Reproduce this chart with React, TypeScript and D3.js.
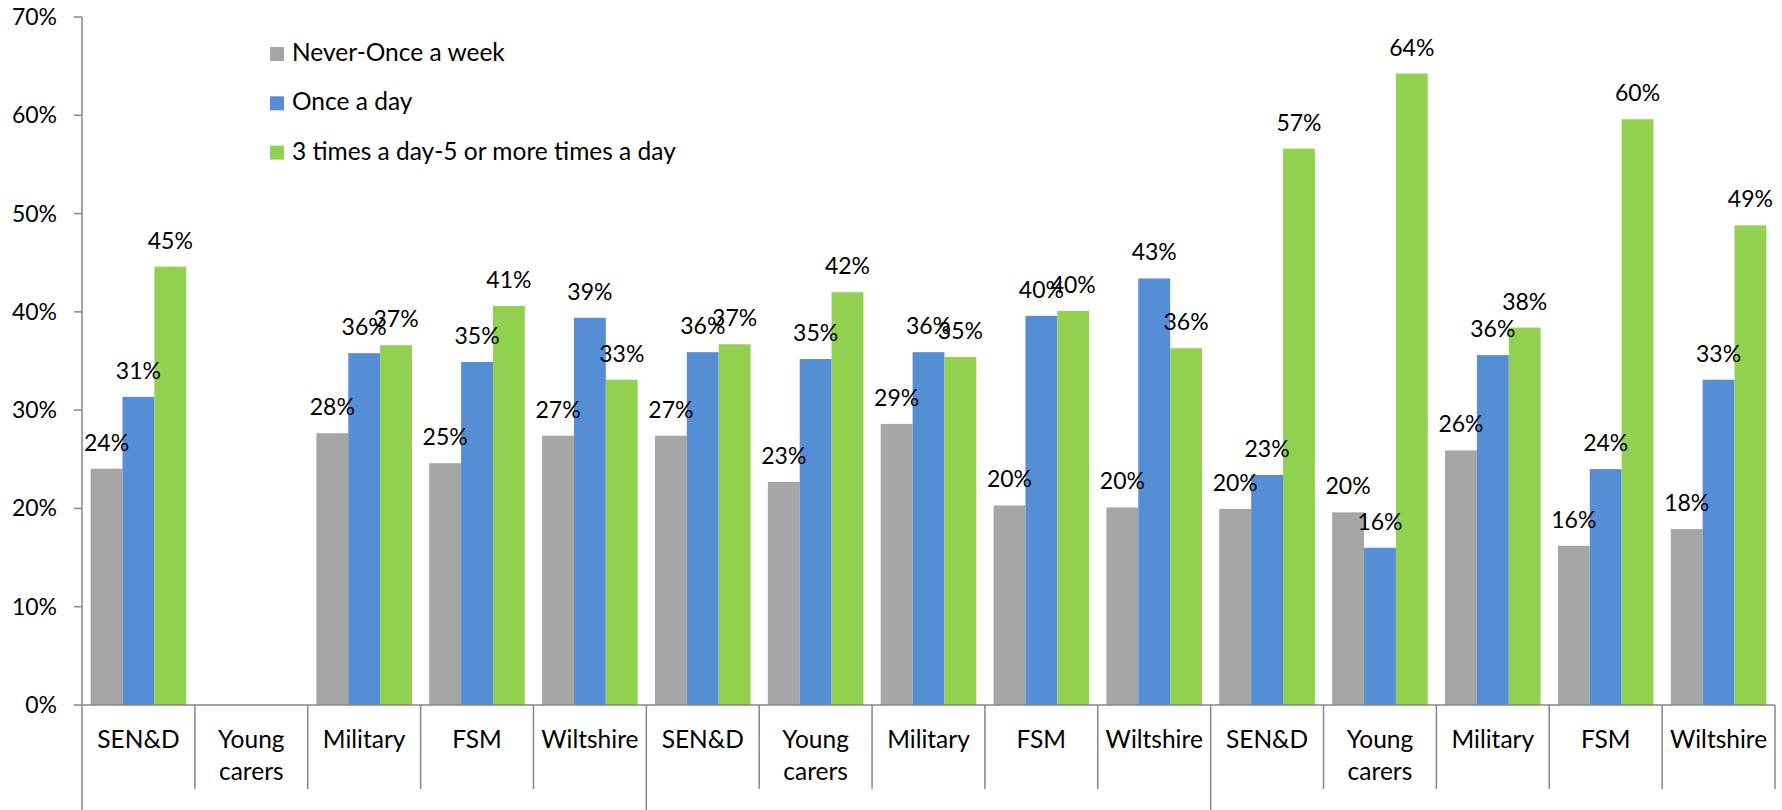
import React from "react";
import * as d3 from "d3";

const categories = [
  "SEN&D", "Young carers", "Military", "FSM", "Wiltshire",
  "SEN&D", "Young carers", "Military", "FSM", "Wiltshire",
  "SEN&D", "Young carers", "Military", "FSM", "Wiltshire",
];
const seriesNames = ["Never-Once a week", "Once a day", "3 times a day-5 or more times a day"];
const neverOnce = [24.05, null, 27.65, 24.6, 27.4, 27.4, 22.7, 28.6, 20.3, 20.1, 19.95, 19.6, 25.9, 16.2, 17.9];
const onceDay = [31.35, null, 35.8, 34.9, 39.4, 35.9, 35.2, 35.9, 39.6, 43.4, 23.4, 16.0, 35.6, 24.0, 33.1];
const threeTimes = [44.6, null, 36.6, 40.6, 33.1, 36.7, 42.0, 35.4, 40.1, 36.3, 56.6, 64.25, 38.4, 59.6, 48.8];
const yTicks = [0, 10, 20, 30, 40, 50, 60, 70];
const groupSize = 5;

const colors = ["#A6A6A6", "#558ED5", "#92D050"];
const W = 1782;
const H = 810;
const FONT = "Lato, 'Open Sans', sans-serif";
const FS = 23;
const FS_TEXT = 24.5;

export default function App() {
  const series = [neverOnce, onceDay, threeTimes];
  const left = 82, right = 1775, base = 705, top = 17;
  const y = d3.scaleLinear().domain([0, 70]).range([base, top]);
  const idx = d3.range(categories.length);
  const xCat = d3.scaleBand<number>().domain(idx).range([left, right]).paddingInner(0.153).paddingOuter(0.0765);
  const xSer = d3.scaleBand<string>().domain(seriesNames).range([0, xCat.bandwidth()]);
  const step = xCat.step();
  const axisColor = "#868686";

  return (
    <svg width={W} height={H} style={{ position: "fixed", left: 0, top: 0, background: "#fff" }} fontFamily={FONT}>
      <rect x={0} y={0} width={W} height={H} fill="#fff" />
      {/* bars */}
      {series.map((vals, si) =>
        vals.map((v, ci) =>
          v == null ? null : (
            <rect
              key={`b${si}-${ci}`}
              x={(xCat(ci) as number) + (xSer(seriesNames[si]) as number)}
              y={y(v)}
              width={xSer.bandwidth()}
              height={y(0) - y(v)}
              fill={colors[si]}
            />
          )
        )
      )}
      {/* data labels */}
      {series.map((vals, si) =>
        vals.map((v, ci) =>
          v == null ? null : (
            <text
              key={`l${si}-${ci}`}
              x={(xCat(ci) as number) + (xSer(seriesNames[si]) as number) + xSer.bandwidth() / 2}
              y={y(v) - 18}
              textAnchor="middle"
              fontSize={FS}
              fill="#000"
            >
              {`${Math.round(v)}%`}
            </text>
          )
        )
      )}
      {/* y axis */}
      <line x1={left} x2={left} y1={top} y2={H} stroke={axisColor} strokeWidth={1.5} />
      {yTicks.map((t) => (
        <g key={`t${t}`}>
          <line x1={left - 8} x2={left} y1={y(t)} y2={y(t)} stroke={axisColor} strokeWidth={1.5} />
          <text x={57} y={y(t) + 8} textAnchor="end" fontSize={FS} fill="#000">{`${t}%`}</text>
        </g>
      ))}
      {/* x axis */}
      <line x1={left} x2={right} y1={base} y2={base} stroke={axisColor} strokeWidth={1.5} />
      {d3.range(1, categories.length + 1).map((i) => {
        const xx = left + i * step;
        const isGroup = i % groupSize === 0 && i < categories.length;
        return (
          <line key={`s${i}`} x1={xx} x2={xx} y1={base} y2={isGroup ? H : 789} stroke={axisColor} strokeWidth={1.5} />
        );
      })}
      {categories.map((c, ci) => {
        const cx = (xCat(ci) as number) + xCat.bandwidth() / 2;
        const words = c === "Young carers" ? ["Young", "carers"] : [c];
        return (
          <text key={`c${ci}`} x={cx} y={748} textAnchor="middle" fontSize={FS_TEXT} fill="#000">
            {words.map((w, wi) => (
              <tspan key={wi} x={cx} dy={wi === 0 ? 0 : 32}>{w}</tspan>
            ))}
          </text>
        );
      })}
      {/* legend */}
      {seriesNames.map((s, si) => (
        <g key={`lg${si}`}>
          <rect x={270} y={47 + si * 49.3} width={14} height={14} fill={colors[si]} />
          <text x={292} y={61 + si * 49.3} fontSize={FS_TEXT} fill="#000">{s}</text>
        </g>
      ))}
    </svg>
  );
}
